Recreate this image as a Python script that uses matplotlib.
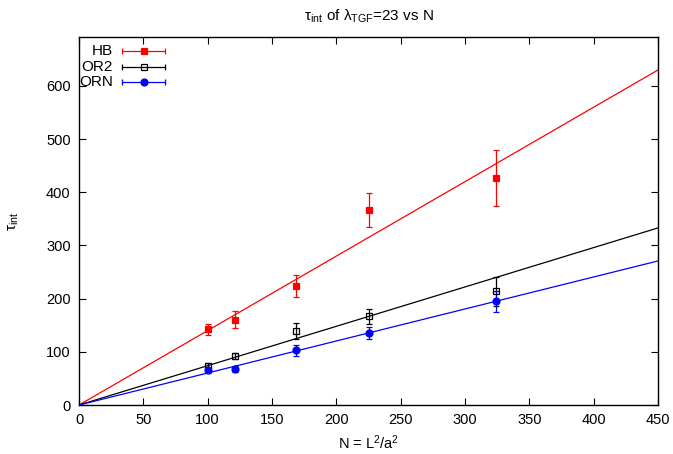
import numpy as np
import matplotlib.pyplot as plt

plt.rc('font', family=['Liberation Sans', 'DejaVu Sans'], size=10.5)
plt.rc('mathtext', fontset='custom', rm='Liberation Sans', it='Liberation Sans:italic')

# lattice sizes N = L^2/a^2
n_vals = [100, 121, 169, 225, 324]

hb = [142, 160, 224, 367, 427]
hb_err = [11, 16, 20, 32, 52]
or2 = [74, 92, 139, 167, 214]
or2_err = [5, 6, 15, 14, 27]
orn = [65, 68, 103, 135, 195]
orn_err = [4, 5, 10, 11, 20]

# slopes of fitted lines through the origin
fit_slopes = {'HB': 1.40, 'OR2': 0.740, 'ORN': 0.602}

series = [
    ('HB', hb, hb_err, 'red', 's', 'red'),
    ('OR2', or2, or2_err, 'black', 's', 'none'),
    ('ORN', orn, orn_err, 'blue', 'o', 'blue'),
]

fig = plt.figure(figsize=(6.73, 4.54), dpi=100)
ax = fig.add_axes([0.1174, 0.1079, 0.8603, 0.8106])

xfit = np.array([0, 450])
for name, y, yerr, col, mk, fc in series:
    ax.plot(xfit, fit_slopes[name] * xfit, color=col, lw=0.9)
    ax.errorbar(n_vals, y, yerr=yerr, fmt=mk, color=col, mfc=fc, mec=col,
                ms=5, mew=0.9, elinewidth=0.9, capsize=2.5, capthick=0.9)

# gnuplot style key, text right aligned before sample
key_y = [0.9628, 0.9193, 0.8785]
for (name, y, yerr, col, mk, fc), ky in zip(series, key_y):
    ax.text(0.0587, ky, name, transform=ax.transAxes, ha='right', va='center',
            fontsize=11)
    ax.plot([0.0746, 0.1490], [ky, ky], color=col, lw=0.9, transform=ax.transAxes,
            clip_on=False)
    ax.plot([0.0746, 0.1490], [ky, ky], color=col, lw=0, marker='|', ms=5,
            mew=0.9, transform=ax.transAxes, clip_on=False)
    ax.plot([0.1123], [ky], color=col, marker=mk, mfc=fc, mec=col, ms=5, mew=0.9,
            transform=ax.transAxes, clip_on=False)

ax.set_xlim(0, 450)
ax.set_ylim(0, 692)
ax.set_xticks(np.arange(0, 451, 50))
ax.set_yticks(np.arange(0, 601, 100))
ax.tick_params(direction='in', top=True, right=True, length=5, width=0.8,
               labelsize=10.5, pad=6)
for s in ax.spines.values():
    s.set_linewidth(1.0)

ax.set_xlabel('N = L$^2$/a$^2$', fontsize=10.5, labelpad=4)
ax.set_ylabel('τ$_{\\rm int}$', fontsize=11, labelpad=18)
ax.set_title('τ$_{\\rm int}$ of λ$_{\\rm TGF}$=23 vs N', fontsize=11, pad=12)

plt.savefig('out.png', dpi=100)
